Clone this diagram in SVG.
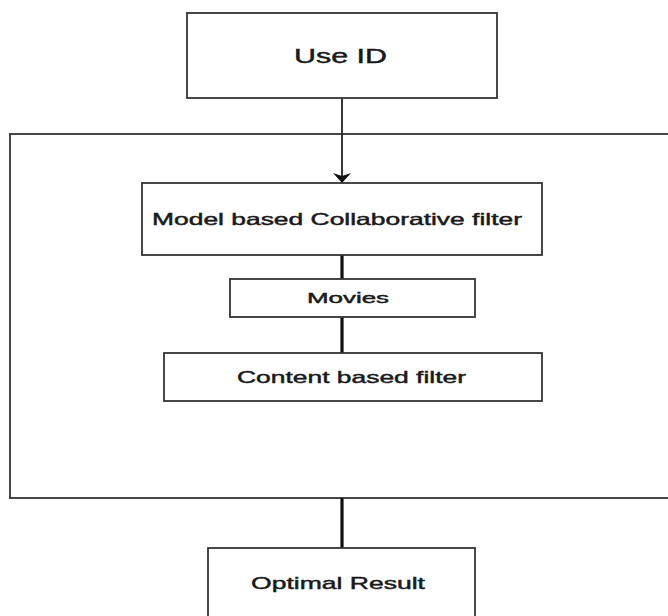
<svg xmlns="http://www.w3.org/2000/svg" width="668" height="616" viewBox="0 0 668 616">
  <style>
    .box { fill: #ffffff; stroke: #333333; stroke-width: 1.8; }
    .lbl { font-family: "Liberation Sans", Arial, sans-serif; fill: #1a1a1a; stroke: #1a1a1a; stroke-width: 0.45; text-anchor: middle; }
    .thick { stroke: #111111; stroke-width: 3.2; fill: none; }
    .thin { stroke: #222222; stroke-width: 1.8; fill: none; }
  </style>
  <defs>
    <marker id="arrow" viewBox="0 0 10 18" refX="10" refY="9" markerWidth="10" markerHeight="18" markerUnits="userSpaceOnUse" orient="auto">
      <path d="M0,0 L10,9 L0,18 L3,9 z" fill="#111111"/>
    </marker>
  </defs>
  <rect width="668" height="616" fill="#ffffff"/>

  <g id="container">
    <rect class="box" x="10" y="134" width="700" height="364"/>
  </g>

  <g id="connectors">
    <line class="thin" x1="342" y1="98" x2="342" y2="183" marker-end="url(#arrow)"/>
    <line class="thick" x1="342" y1="255" x2="342" y2="279"/>
    <line class="thick" x1="342" y1="317" x2="342" y2="353"/>
    <line class="thick" x1="342" y1="498" x2="342" y2="548"/>
  </g>

  <g id="use-id">
    <rect class="box" x="187" y="13" width="310" height="85"/>
    <text class="lbl" x="340.5" y="63" font-size="20" textLength="93" lengthAdjust="spacingAndGlyphs">Use ID</text>
  </g>

  <g id="model-cf">
    <rect class="box" x="142" y="183" width="400" height="72"/>
    <text class="lbl" x="337" y="225" font-size="16.5" textLength="370" lengthAdjust="spacingAndGlyphs">Model based Collaborative filter</text>
  </g>

  <g id="movies">
    <rect class="box" x="230" y="279" width="245" height="38"/>
    <text class="lbl" x="348" y="303" font-size="15" textLength="82" lengthAdjust="spacingAndGlyphs">Movies</text>
  </g>

  <g id="content-filter">
    <rect class="box" x="164" y="353" width="378" height="48"/>
    <text class="lbl" x="351.5" y="383" font-size="17" textLength="229" lengthAdjust="spacingAndGlyphs">Content based filter</text>
  </g>

  <g id="optimal">
    <rect class="box" x="208" y="548" width="267" height="80"/>
    <text class="lbl" x="338" y="589" font-size="17" textLength="174" lengthAdjust="spacingAndGlyphs">Optimal Result</text>
  </g>
</svg>
